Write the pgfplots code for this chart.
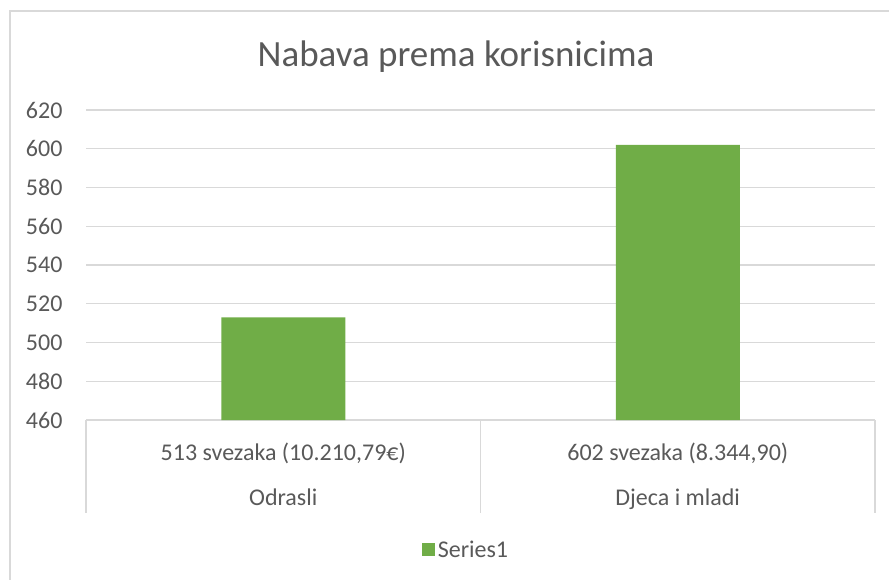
\documentclass[border=0pt]{standalone}
\usepackage{fontspec}
\setmainfont{Carlito}
\usepackage{pgfplots}
\pgfplotsset{compat=1.18}
\definecolor{txt}{HTML}{595959}
\definecolor{gridg}{HTML}{D9D9D9}
\definecolor{barg}{HTML}{70AD47}
\begin{document}
\begin{tikzpicture}
\path[use as bounding box] (0,0) rectangle (889bp,580bp);
\draw[gridg, line width=1.2bp] (10bp,0) -- (10bp,569bp) -- (889bp,569bp);
\node[txt, anchor=base, font=\fontsize{37bp}{44bp}\selectfont] at (456bp,513bp) {Nabava prema korisnicima};
\begin{axis}[
  at={(86bp,160bp)}, anchor=south west,
  scale only axis, width=789bp, height=310bp,
  xmin=-0.5, xmax=1.5, ymin=460, ymax=620,
  ytick={460,480,...,620},
  xtick={0,1},
  xticklabels={{513 svezaka (10.210,79€)}, {602 svezaka (8.344,90)}},
  xticklabel style={anchor=base, yshift=-40bp},
  major tick length=0pt,
  axis line style={draw=none},
  ymajorgrids, grid style={gridg, line width=1.2bp},
  tick label style={txt, font=\fontsize{24bp}{28bp}\selectfont},
  yticklabel style={anchor=east, xshift=-20bp},
  /pgf/number format/assume math mode=true,
  clip=false,
  legend style={at={(0.4816,-0.419)}, anchor=center, draw=none, fill=none,
    font=\fontsize{24bp}{28bp}\selectfont, text=txt},
  legend image code/.code={\fill[barg] (-4bp,-6.5bp) rectangle (9bp,6.5bp);},
]
\addplot[ybar, bar width=124bp, fill=barg, draw=none] coordinates {(0,513) (1,602)};
\addlegendentry{\hspace{1bp}Series1}
\draw[gridg, line width=1.2bp] (axis cs:-0.5,460) -- ([yshift=-93bp]axis cs:-0.5,460);
\draw[gridg, line width=1.2bp] (axis cs:0.5,460) -- ([yshift=-93bp]axis cs:0.5,460);
\draw[gridg, line width=1.2bp] (axis cs:1.5,460) -- ([yshift=-93bp]axis cs:1.5,460);
\node[txt, anchor=base, font=\fontsize{24bp}{28bp}\selectfont] at ([yshift=-85bp]axis cs:0,460) {Odrasli};
\node[txt, anchor=base, font=\fontsize{24bp}{28bp}\selectfont] at ([yshift=-85bp]axis cs:1,460) {Djeca i mladi};
\end{axis}
\end{tikzpicture}
\end{document}
